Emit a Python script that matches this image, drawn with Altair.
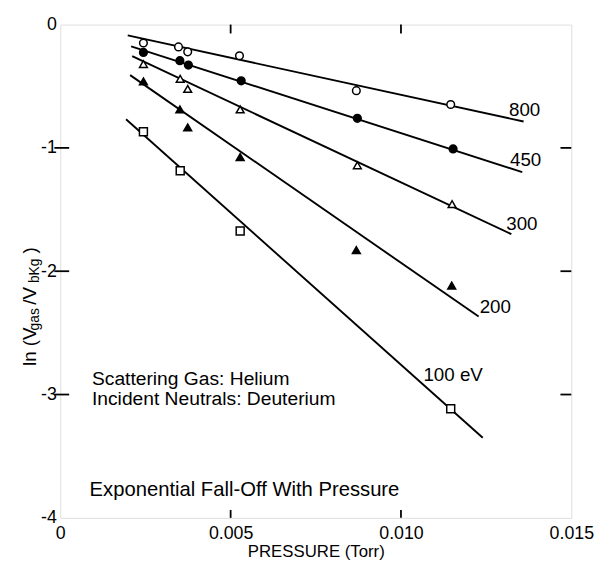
import altair as alt
import pandas as pd

# ---------------- data ----------------
series = ["800", "450", "300", "200", "100"]

p_800 = [0.00244, 0.00347, 0.00374, 0.00526, 0.00869, 0.01146]
v_800 = [-0.149, -0.181, -0.221, -0.253, -0.536, -0.648]

p_450 = [0.00244, 0.00351, 0.00376, 0.00531, 0.00872, 0.01153]
v_450 = [-0.226, -0.293, -0.328, -0.456, -0.760, -1.008]

p_300 = [0.00244, 0.00352, 0.00374, 0.00528, 0.00872, 0.01150]
v_300 = [-0.320, -0.440, -0.522, -0.688, -1.141, -1.456]

p_200 = [0.00244, 0.00351, 0.00374, 0.00528, 0.00869, 0.01149]
v_200 = [-0.461, -0.688, -0.834, -1.074, -1.829, -2.117]

p_100 = [0.00244, 0.00352, 0.00528, 0.01146]
v_100 = [-0.869, -1.186, -1.674, -3.115]

# fitted straight lines: start / end points
fit_p0 = [0.00198, 0.00208, 0.00211, 0.00205, 0.00193]
fit_v0 = [-0.088, -0.176, -0.256, -0.410, -0.768]
fit_p1 = [0.01360, 0.01356, 0.01324, 0.01228, 0.01240]
fit_v1 = [-0.786, -1.197, -1.700, -2.368, -3.350]

# curve labels
lab_text = ["800", "450", "300", "200", "100 eV"]
lab_p = [0.01317, 0.01320, 0.01309, 0.01231, 0.01066]
lab_v = [-0.69, -1.098, -1.616, -2.288, -2.842]

# free annotations
note_text = ["Scattering Gas: Helium", "Incident Neutrals: Deuterium",
             "Exponential Fall-Off With Pressure"]
note_p = [0.00093, 0.00093, 0.00086]
note_v = [-2.874, -3.040, -3.778]
note_fs = [19.5, 19.5, 20.5]

x_ticks = [0.005, 0.010]
y_ticks = [-1, -2, -3]

shapes = ["circle", "circle", "triangle-up", "triangle-up", "square"]
fills = ["white", "black", "white", "black", "white"]
sizes = [60, 65, 70, 70, 48]

# ---------------- tables ----------------
rows = []
for s, ps, vs in zip(series, [p_800, p_450, p_300, p_200, p_100],
                     [v_800, v_450, v_300, v_200, v_100]):
    for p, v in zip(ps, vs):
        rows.append({"series": s, "p": p, "v": v})
pts = pd.DataFrame(rows)

fit_rows = []
for s, a, b, c, d in zip(series, fit_p0, fit_v0, fit_p1, fit_v1):
    fit_rows.append({"series": s, "p": a, "v": b})
    fit_rows.append({"series": s, "p": c, "v": d})
fits = pd.DataFrame(fit_rows)

labs = pd.DataFrame({"t": lab_text, "p": lab_p, "v": lab_v})
notes = pd.DataFrame({"t": note_text, "p": note_p, "v": note_v, "fs": note_fs})
xt = pd.DataFrame({"p": x_ticks})
yt = pd.DataFrame({"v": y_ticks})

FONT = "Liberation Sans"
W, H = 518, 500

xscale = alt.Scale(domain=[0, 0.015], nice=False, zero=False)
yscale = alt.Scale(domain=[-4, 0], nice=False, zero=False)

xaxis = alt.Axis(values=[0, 0.005, 0.010, 0.015], ticks=False, domain=False, grid=False,
                 labelExpr="datum.value == 0 ? '0' : format(datum.value, '.3f')",
                 labelFontSize=18, labelFont=FONT, labelColor="black", labelPadding=7,
                 labelFlush=False, title="PRESSURE (Torr)", titleFont=FONT,
                 titleFontSize=17, titleFontWeight="normal", titleColor="black",
                 titlePadding=1)
yaxis = alt.Axis(values=[0, -1, -2, -3, -4], ticks=False, domain=False, grid=False,
                 labelExpr="datum.value == 0 ? '0' : '-' + abs(datum.value)",
                 labelFontSize=18, labelFont=FONT, labelColor="black", labelPadding=4,
                 labelFlush=False, title=None)

X = alt.X("p:Q", scale=xscale, axis=xaxis)
Y = alt.Y("v:Q", scale=yscale, axis=yaxis)

lines = alt.Chart(fits).mark_line(color="black", strokeWidth=1.9).encode(
    x=X, y=Y, detail="series:N")

points = alt.Chart(pts).mark_point(filled=True, stroke="black", strokeWidth=1.5,
                                   opacity=1).encode(
    x=alt.X("p:Q", scale=xscale),
    y=alt.Y("v:Q", scale=yscale),
    shape=alt.Shape("series:N", scale=alt.Scale(domain=series, range=shapes), legend=None),
    fill=alt.Fill("series:N", scale=alt.Scale(domain=series, range=fills), legend=None),
    size=alt.Size("series:N", scale=alt.Scale(domain=series, range=sizes), legend=None),
)

curve_labels = alt.Chart(labs).mark_text(align="left", baseline="middle", fontSize=19,
                                         font=FONT, color="black").encode(
    x=alt.X("p:Q", scale=xscale), y=alt.Y("v:Q", scale=yscale), text="t:N")

note_labels = alt.Chart(notes).mark_text(align="left", baseline="middle",
                                         font=FONT, color="black").encode(
    x=alt.X("p:Q", scale=xscale), y=alt.Y("v:Q", scale=yscale), text="t:N",
    size=alt.Size("fs:Q", scale=None, legend=None))

# inward ticks on all four sides
tick_style = dict(color="black", strokeWidth=1.8)
left_ticks = alt.Chart(yt).mark_rule(**tick_style).encode(
    y=alt.Y("v:Q", scale=yscale), x=alt.value(-6), x2=alt.value(9))
right_ticks = alt.Chart(yt).mark_rule(**tick_style).encode(
    y=alt.Y("v:Q", scale=yscale), x=alt.value(W - 11), x2=alt.value(W))
bottom_ticks = alt.Chart(xt).mark_rule(**tick_style).encode(
    x=alt.X("p:Q", scale=xscale), y=alt.value(H - 8), y2=alt.value(H))
top_ticks = alt.Chart(xt).mark_rule(**tick_style).encode(
    x=alt.X("p:Q", scale=xscale), y=alt.value(0), y2=alt.value(9))

# y-axis title with subscripts: ln (V_gas /V_bKg)
yt_parts = pd.DataFrame({
    "t": ["ln (V", "gas", "/V", "bKg", ")"],
    "yy": [346, 310, 284, 262, 232],
    "xx": [-25, -22, -25, -22, -25],
    "fs": [19, 14, 19, 14, 19],
})
ytitle = alt.Chart(yt_parts).mark_text(align="left", baseline="alphabetic", angle=270,
                                       font=FONT, color="black").encode(
    x=alt.X("xx:Q", scale=None), y=alt.Y("yy:Q", scale=None), text="t:N",
    size=alt.Size("fs:Q", scale=None, legend=None))

chart = alt.layer(lines, points, curve_labels, note_labels, left_ticks, right_ticks,
                  bottom_ticks, top_ticks, ytitle).properties(
    width=W, height=H,
    padding={"left": 53, "top": 13, "right": 23, "bottom": 45},
    autosize=alt.AutoSizeParams(type="none"),
).configure_view(stroke="black", strokeWidth=2).configure(background="white")

chart.save("out.html", embed_options={"renderer": "svg", "actions": False})
